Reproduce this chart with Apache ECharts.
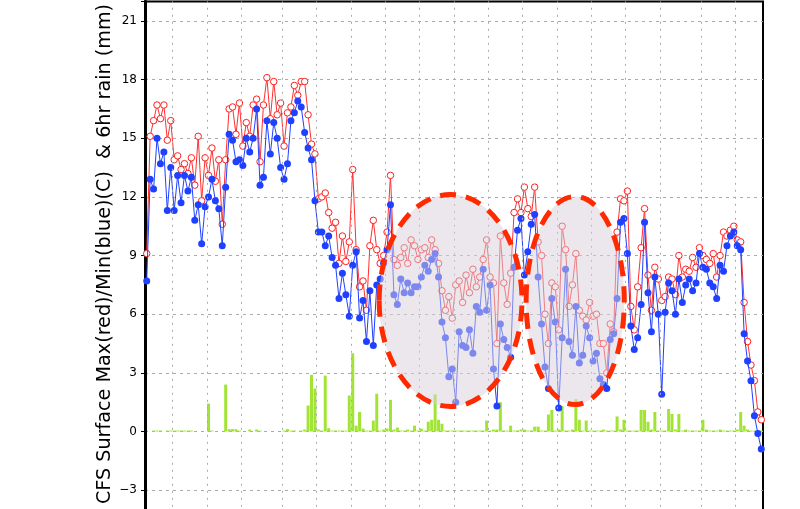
<!DOCTYPE html>
<html><head><meta charset="utf-8">
<script src="https://cdn.jsdelivr.net/npm/echarts@6/dist/echarts.min.js"></script>
<style>html,body{margin:0;padding:0;background:#fff}#c{width:800px;height:509px}</style>
</head><body><div id="c"></div>
<script>
// Daily max (red) temperatures, C
const tMax = [9.1,15.1,15.9,16.7,16.0,16.7,14.9,15.9,13.9,14.1,
13.4,13.7,13.2,14.0,12.6,15.1,11.8,14.0,13.1,14.5,
12.8,13.9,10.6,13.9,16.5,16.6,15.2,16.8,14.6,15.8,
15.1,16.7,17.0,13.8,16.7,18.1,16.0,17.9,16.2,16.8,
14.6,16.3,16.6,17.7,17.2,17.9,17.9,16.2,14.7,14.2,
11.9,12.0,12.2,11.2,10.4,10.7,8.6,10.0,8.7,9.7,
13.4,9.3,7.4,7.7,6.2,9.5,10.8,9.3,8.6,9.0,
10.2,13.1,8.8,8.5,8.9,9.4,8.6,9.8,9.5,8.8,
9.3,9.4,8.9,9.8,9.3,8.6,7.2,6.2,6.9,5.8,
7.5,7.7,6.6,8.0,7.1,8.3,7.4,7.9,8.8,9.8,
7.9,7.6,4.5,10.0,7.6,6.5,8.1,11.2,11.9,11.2,
12.5,11.4,11.0,12.5,9.7,9.0,6.0,4.5,7.6,7.4,
5.2,10.5,9.3,6.4,7.5,9.1,6.2,5.9,5.7,6.6,
5.9,6.0,4.5,4.5,3.0,5.5,5.1,10.2,11.9,11.8,
12.3,6.4,5.2,7.4,9.4,11.4,8.0,6.2,8.4,7.8,
6.7,6.9,7.9,7.8,7.0,9.0,7.9,8.3,8.2,8.9,
8.4,9.4,9.0,8.8,8.6,9.1,7.9,9.0,10.2,10.0,
10.3,10.5,9.8,9.7,6.6,4.6,3.4,2.6,1.0,0.6];
// Daily min (blue) temperatures, C
const tMin = [7.7,12.9,12.4,15.0,13.7,14.3,11.3,13.5,11.3,13.1,
11.7,13.1,12.3,13.0,10.8,11.6,9.6,11.5,12.0,12.9,
11.8,11.4,9.5,12.5,15.2,14.9,13.8,13.9,13.6,15.0,
14.3,15.0,16.5,12.6,13.0,15.9,14.2,15.8,15.0,13.5,
12.9,13.7,15.9,16.3,16.9,16.6,15.3,14.5,13.9,11.8,
10.2,10.2,9.5,10.0,8.9,8.5,6.8,8.1,7.0,5.9,
8.5,9.2,5.8,6.7,4.6,7.2,4.4,7.5,7.8,8.6,
9.3,11.6,7.0,6.5,7.8,7.1,7.6,7.1,7.4,7.4,
7.9,8.5,8.2,8.8,9.1,7.9,5.6,4.8,2.8,3.2,
1.5,5.1,4.4,4.3,5.2,4.0,6.4,6.1,8.3,6.2,
7.5,3.2,1.3,5.5,4.7,4.3,3.8,8.4,10.3,10.9,
8.0,9.2,10.6,11.1,7.9,5.5,3.3,2.2,6.8,5.6,
1.2,4.8,8.3,4.6,3.9,6.4,3.5,3.9,5.4,4.8,
3.6,4.0,2.7,2.4,2.2,4.7,5.0,6.8,10.7,10.9,
9.1,5.4,4.2,4.8,6.5,10.7,7.1,5.1,7.9,6.0,
1.9,6.1,7.6,7.2,6.0,7.8,6.6,7.5,7.8,7.2,
7.6,9.1,8.4,8.3,7.6,7.4,6.8,8.5,8.2,9.5,
10.0,10.2,9.5,9.3,5.0,3.6,2.6,0.8,-0.1,-0.9];
// Rain, mm
const rain = [0,0,0.05,0.05,0.05,0,0.05,0.05,0.05,0.05,
0.05,0.05,0.05,0.05,0,0,0,0,1.43,0.05,
0,0,0,2.4,0.12,0.12,0.12,0.05,0,0,
0.1,0,0.1,0.05,0,0,0,0,0,0,
0.05,0.12,0.05,0.05,0,0.05,0.1,1.33,2.9,2.2,
0.1,0.05,2.86,0.17,0.05,0.05,0.05,0.05,0.05,1.84,
4.0,0.3,1.0,0.15,0.05,0.05,0.56,1.93,0.05,0.1,
0.15,1.62,0.1,0.2,0.05,0.05,0.1,0.05,0.3,0.05,
0.15,0.05,0.5,0.6,1.9,0.6,0.4,0.05,0.05,0.05,
0.05,0.05,0.05,0.05,0.05,0.05,0.05,0.05,0.05,0.56,
0.05,0.1,0.1,1.5,0.05,0.05,0.3,0.05,0.05,0.1,
0.1,0.05,0.05,0.25,0.25,0.05,0.05,0.87,1.1,0.05,
0.1,1.3,0.05,0.05,0.1,1.65,0.6,0.05,0.56,0.05,
0.05,0.05,0.05,0.1,0.05,0.05,0.05,0.77,0.1,0.6,
0.05,0.05,0.05,0.05,1.1,1.1,0.5,0.1,1.0,0.05,
0.05,0.05,1.15,0.9,0.1,0.9,0.05,0.1,0.05,0.05,
0.05,0.05,0.6,0.1,0.05,0.05,0.05,0.1,0.05,0.05,
0.05,0.05,0.1,1.0,0.3,0.1,0.05,0.05,0.05,0.05];
// Vertical grid line positions (day index)
const xGridDays = [8,18,28,40,50,60,70,80,90,100,110,120,130,140,150,162,172];
const yLabelName = 'CFS Surface Max(red)/Min(blue)(C)  & 6hr rain (mm)';
// Highlight ellipses in data units: centre day, centre value, radius days, radius value
const ellipses = [[89.0, 6.7, 20.8, 5.42], [125.3, 6.7, 14.3, 5.32]];

const toXY = arr => arr.map((v, i) => [i + 0.5, v]);

const chart = echarts.init(document.getElementById('c'), null, {renderer: 'canvas'});
chart.setOption({
  animation: false,
  backgroundColor: '#ffffff',
  grid: {left: 145, right: 37, top: 1.4, bottom: -39.8, outerBoundsMode: 'none', containLabel: false,
    show: true, borderColor: '#000', borderWidth: 2, backgroundColor: 'transparent'},
  xAxis: {type: 'value', min: 0, max: 180, show: false},
  yAxis: {
    type: 'value', min: -6, max: 22, interval: 3,
    axisLine: {show: true, lineStyle: {color: '#000', width: 3}},
    axisTick: {show: true, length: 4, lineStyle: {color: '#000', width: 1}},
    axisLabel: {color: '#000', fontSize: 12, fontFamily: 'DejaVu Sans', margin: 8,
      formatter: v => (Math.round(v) % 3 === 0 && v < 22) ? (v < 0 ? '\u2212' + (-v) : String(v)) : ''},
    splitLine: {show: true, showMaxLine: false, lineStyle: {color: '#aaaaaa', width: 1, type: [3, 4]}}
  },
  series: [
    {type: 'line', data: [], z: 1, silent: true,
     markLine: {silent: true, symbol: ['none', 'none'], label: {show: false},
       lineStyle: {color: '#aaaaaa', width: 1, type: [2, 5]},
       data: xGridDays.map(d => ({xAxis: d}))}},
    {type: 'bar', data: toXY(rain), barWidth: 3, z: 2, itemStyle: {color: '#a2e435'}},
    {type: 'line', data: toXY(tMax), z: 3, symbol: 'circle', symbolSize: 6.5,
     itemStyle: {color: '#ffffff', borderColor: '#ff2020', borderWidth: 1},
     lineStyle: {color: '#ff3030', width: 1}},
    {type: 'line', data: toXY(tMin), z: 4, symbol: 'circle', symbolSize: 7,
     itemStyle: {color: '#2040ff'}, lineStyle: {color: '#2040ff', width: 1}}
  ]
});

const gr = [{type: 'text', x: 105, y: 254, rotation: Math.PI / 2, z: 50,
  style: {text: yLabelName, font: '19.2px "DejaVu Sans"', fill: '#000', textAlign: 'center', textVerticalAlign: 'middle'}}];
ellipses.forEach(e => {
  const c = chart.convertToPixel({gridIndex: 0}, [e[0], e[1]]);
  const p = chart.convertToPixel({gridIndex: 0}, [e[0] + e[2], e[1] + e[3]]);
  gr.push({type: 'ellipse', z: 100,
    shape: {cx: c[0], cy: c[1], rx: Math.abs(p[0] - c[0]), ry: Math.abs(c[1] - p[1])},
    style: {fill: 'rgba(215,208,220,0.5)', stroke: '#ff2a00', lineWidth: 5, lineDash: [16, 10]}});
});
chart.setOption({graphic: gr});
</script>
</body></html>
